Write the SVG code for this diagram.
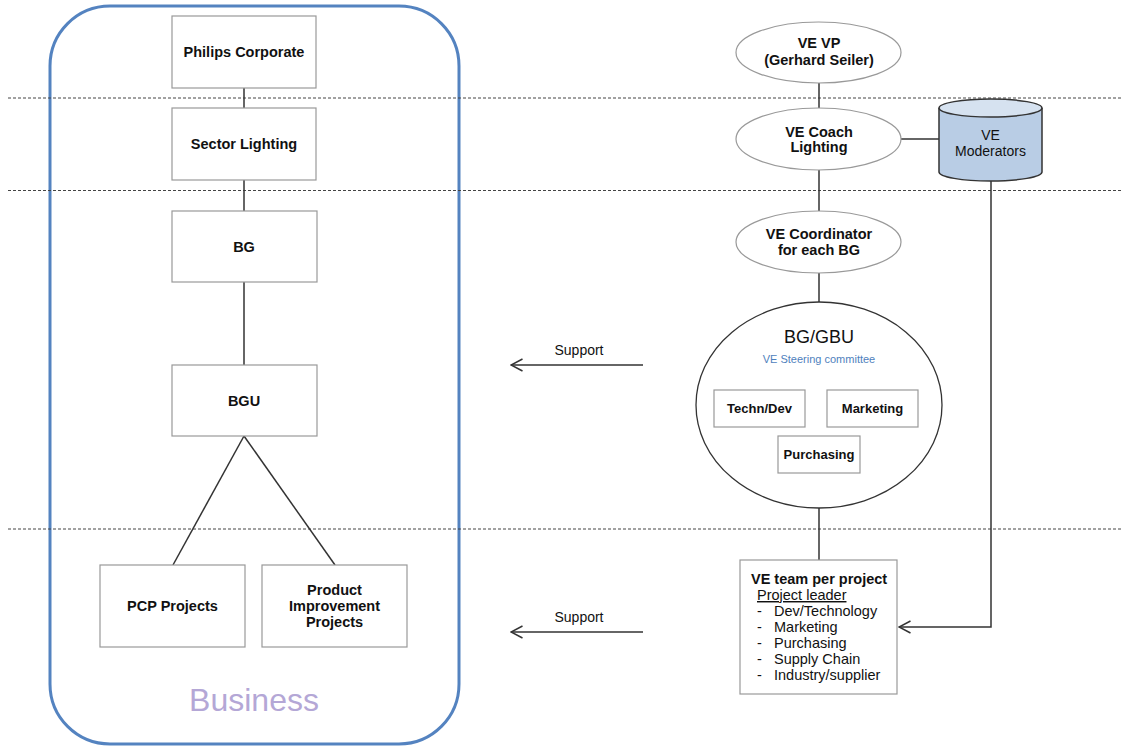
<svg xmlns="http://www.w3.org/2000/svg" width="1121" height="746" viewBox="0 0 1121 746">
<defs>
<style>
text{font-family:"Liberation Sans",Arial,sans-serif;fill:#111}
.b{font-weight:bold;font-size:14.5px;text-anchor:middle}
.r{font-size:14.5px}
.box{fill:#fff;stroke:#999;stroke-width:1.2}
.ell{fill:#fff;stroke:#999;stroke-width:1.2}
.ln{fill:none;stroke:#333;stroke-width:1.5}
.dash{stroke:#444;stroke-width:1;stroke-dasharray:3 2}
</style>
<marker id="arr" viewBox="0 0 14 14" refX="12.5" refY="7" markerWidth="14" markerHeight="14" markerUnits="userSpaceOnUse" orient="auto">
<path d="M1,1 L12.5,7 L1,13" fill="none" stroke="#333" stroke-width="1.5"/>
</marker>
</defs>
<rect width="1121" height="746" fill="#fff"/>
<g id="business">
<rect x="50" y="6" width="409" height="738" rx="60" ry="60" fill="none" stroke="#5483c0" stroke-width="3"/>
<text x="254" y="711" style="font-size:32px;fill:#b4a7d6;text-anchor:middle">Business</text>
</g>
<g id="levels">
<line class="dash" x1="8" y1="98" x2="1121" y2="98"/>
<line class="dash" x1="8" y1="190.5" x2="1121" y2="190.5"/>
<line class="dash" x1="8" y1="529" x2="1121" y2="529"/>
</g>
<g id="connectors">
<line class="ln" x1="244" y1="88" x2="244" y2="108"/>
<line class="ln" x1="244" y1="180" x2="244" y2="211"/>
<line class="ln" x1="244" y1="282" x2="244" y2="365"/>
<line class="ln" x1="244" y1="436" x2="173" y2="565"/>
<line class="ln" x1="244" y1="436" x2="335" y2="565"/>
<line class="ln" x1="819" y1="83" x2="819" y2="108"/>
<line class="ln" x1="819" y1="170" x2="819" y2="211"/>
<line class="ln" x1="819" y1="273" x2="819" y2="302"/>
<line class="ln" x1="819" y1="508" x2="819" y2="560"/>
<line class="ln" x1="901" y1="139" x2="939" y2="139"/>
<polyline class="ln" points="991,181 991,627 899,627" marker-end="url(#arr)"/>
<line class="ln" x1="643" y1="365" x2="511" y2="365" marker-end="url(#arr)"/>
<line class="ln" x1="643" y1="632" x2="511" y2="632" marker-end="url(#arr)"/>
<text x="579" y="355" style="font-size:14px;text-anchor:middle">Support</text>
<text x="579" y="622" style="font-size:14px;text-anchor:middle">Support</text>
</g>
<g id="philips"><rect class="box" x="172" y="16" width="144" height="72"/><text class="b" x="244" y="57">Philips Corporate</text></g>
<g id="sector"><rect class="box" x="172" y="108" width="144" height="72"/><text class="b" x="244" y="149">Sector Lighting</text></g>
<g id="bg"><rect class="box" x="172" y="211" width="145" height="71"/><text class="b" x="244" y="252">BG</text></g>
<g id="bgu"><rect class="box" x="172" y="365" width="145" height="71"/><text class="b" x="244" y="406">BGU</text></g>
<g id="pcp"><rect class="box" x="100" y="565" width="145" height="82"/><text class="b" x="172.5" y="611">PCP Projects</text></g>
<g id="pip"><rect class="box" x="262" y="565" width="145" height="82"/><text class="b" x="334.5" y="595">Product</text><text class="b" x="334.5" y="611">Improvement</text><text class="b" x="334.5" y="627">Projects</text></g>
<g id="vevp"><ellipse class="ell" cx="818.5" cy="52.5" rx="82.5" ry="30.5"/><text class="b" x="819" y="48">VE VP</text><text class="b" x="819" y="65">(Gerhard Seiler)</text></g>
<g id="vecoach"><ellipse class="ell" cx="818.5" cy="139" rx="82.5" ry="31"/><text class="b" x="819" y="137">VE Coach</text><text class="b" x="819" y="152">Lighting</text></g>
<g id="vecoord"><ellipse class="ell" cx="818.5" cy="242" rx="82.5" ry="31"/><text class="b" x="819" y="239">VE Coordinator</text><text class="b" x="819" y="255">for each BG</text></g>
<g id="moderators">
<path d="M939,108 L939,172 A51.5,9 0 0 0 1042,172 L1042,108" fill="#b9cde5" stroke="#333" stroke-width="1.5"/>
<ellipse cx="990.5" cy="108" rx="51.5" ry="9" fill="#d6e2f0" stroke="#333" stroke-width="1.5"/>
<text x="990.5" y="140" style="font-size:14px;text-anchor:middle">VE</text>
<text x="990.5" y="156" style="font-size:14px;text-anchor:middle">Moderators</text>
</g>
<g id="bggbu">
<ellipse cx="819" cy="405" rx="123" ry="103" fill="#fff" stroke="#333" stroke-width="1.3"/>
<text x="819" y="343" style="font-size:18px;text-anchor:middle">BG/GBU</text>
<text x="819" y="363" style="font-size:11px;fill:#4f81bd;text-anchor:middle">VE Steering committee</text>
</g>
<g id="techdev"><rect class="box" x="714" y="390" width="91" height="37"/><text class="b" x="759.5" y="413" style="font-size:13px">Techn/Dev</text></g>
<g id="marketing"><rect class="box" x="827" y="390" width="91" height="37"/><text class="b" x="872.5" y="413" style="font-size:13px">Marketing</text></g>
<g id="purchasing"><rect class="box" x="778" y="436" width="82" height="37"/><text class="b" x="819" y="459" style="font-size:13px">Purchasing</text></g>
<g id="veteam">
<rect class="box" x="740" y="560" width="157" height="134"/>
<text x="751" y="584" style="font-size:14.5px;font-weight:bold">VE team per project</text>
<text x="757" y="600" class="r" text-decoration="underline">Project leader</text>
<text x="757" y="616" class="r">-</text><text x="774" y="616" class="r">Dev/Technology</text>
<text x="757" y="632" class="r">-</text><text x="774" y="632" class="r">Marketing</text>
<text x="757" y="648" class="r">-</text><text x="774" y="648" class="r">Purchasing</text>
<text x="757" y="664" class="r">-</text><text x="774" y="664" class="r">Supply Chain</text>
<text x="757" y="680" class="r">-</text><text x="774" y="680" class="r">Industry/supplier</text>
</g>
</svg>
